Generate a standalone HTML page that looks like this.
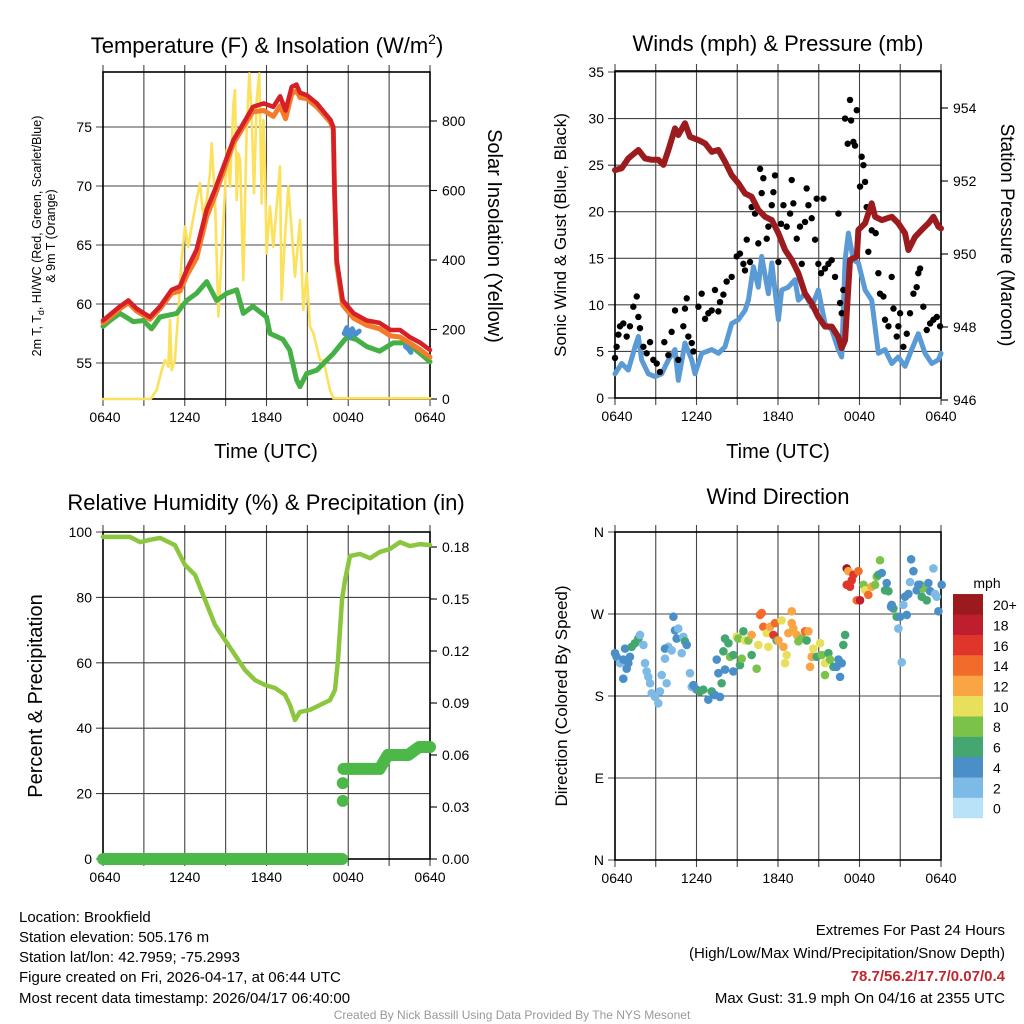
<!DOCTYPE html>
<html><head><meta charset="utf-8"><style>
html,body{margin:0;padding:0;background:#fff;}
svg{display:block;font-family:"Liberation Sans",Arial,sans-serif;}
</style></head><body>
<svg id="chart" width="1024" height="1024" viewBox="0 0 1024 1024">
<rect x="0" y="0" width="1024" height="1024" fill="#fff"/>
<text x="267" y="53" font-size="22" text-anchor="middle">Temperature (F) &amp; Insolation (W/m<tspan font-size="14" dy="-9">2</tspan><tspan dy="9">)</tspan></text>
<text x="778" y="51" font-size="22" text-anchor="middle">Winds (mph) &amp; Pressure (mb)</text>
<text x="266" y="510" font-size="22" text-anchor="middle">Relative Humidity (%) &amp; Precipitation (in)</text>
<text x="778" y="504" font-size="22" text-anchor="middle">Wind Direction</text>

<text transform="translate(41,236) rotate(-90)" font-size="12.5" text-anchor="middle">2m T, T<tspan font-size="9" dy="3">d</tspan><tspan dy="-3">, HI/WC (Red, Green, Scarlet/Blue)</tspan></text>
<text transform="translate(55,236) rotate(-90)" font-size="12.5" text-anchor="middle">&amp; 9m T (Orange)</text>
<text transform="translate(488,236) rotate(90)" font-size="20" text-anchor="middle">Solar Insolation (Yellow)</text>
<text x="266" y="458" font-size="20" text-anchor="middle">Time (UTC)</text>

<text transform="translate(566,235) rotate(-90)" font-size="17" text-anchor="middle">Sonic Wind &amp; Gust (Blue, Black)</text>
<text transform="translate(1001,235) rotate(90)" font-size="19" text-anchor="middle">Station Pressure (Maroon)</text>
<text x="778" y="458" font-size="20" text-anchor="middle">Time (UTC)</text>

<text transform="translate(42,696) rotate(-90)" font-size="20" text-anchor="middle">Percent &amp; Precipitation</text>
<text transform="translate(567,696) rotate(-90)" font-size="17" text-anchor="middle">Direction (Colored By Speed)</text>

<text x="987" y="588" font-size="14" text-anchor="middle">mph</text>

<g font-size="15">
<text x="19" y="922">Location: Brookfield</text>
<text x="19" y="942">Station elevation: 505.176 m</text>
<text x="19" y="962">Station lat/lon: 42.7959; -75.2993</text>
<text x="19" y="982">Figure created on Fri, 2026-04-17, at 06:44 UTC</text>
<text x="19" y="1003">Most recent data timestamp: 2026/04/17 06:40:00</text>
</g>
<g font-size="15" text-anchor="end">
<text x="1005" y="935">Extremes For Past 24 Hours</text>
<text x="1005" y="958">(High/Low/Max Wind/Precipitation/Snow Depth)</text>
<text x="1005" y="981" fill="#c1272d" font-weight="bold">78.7/56.2/17.7/0.07/0.4</text>
<text x="1005" y="1003">Max Gust: 31.9 mph On 04/16 at 2355 UTC</text>
</g>
<text x="512" y="1019" font-size="12" fill="#999" text-anchor="middle">Created By Nick Bassill Using Data Provided By The NYS Mesonet</text>
</svg>
<script>
// ---------- data (hours since 0640 UTC) ----------
const timeTicks = ["0640","1240","1840","0040","0640"];
const tempTicks = [55,60,65,70,75];
const solarTicks = [0,200,400,600,800];
const windTicks = [0,5,10,15,20,25,30,35];
const presTicks = [946,948,950,952,954];
const rhTicks = [0,20,40,60,80,100];
const precTicks = [0.00,0.03,0.06,0.09,0.12,0.15,0.18];
const dirTicks = ["N","E","S","W","N"];
const speedLabels = ["0","2","4","6","8","10","12","14","16","18","20+"];
const speedColors = ["#b9e2f8","#7ebae6","#4a8fc8","#45a770","#7bc24b","#e8e05a","#f9a543","#f26b2a","#e0352b","#be1e2d","#9b1a1e"];

const tempHours = [0,1.25,1.86,2.47,3.45,4.18,5.04,5.65,6.14,6.87,7.61,8.22,8.83,9.57,10.3,11.0,11.8,12.5,13.0,13.4,13.85,14.2,14.46,14.95,15.7,16.7,16.9,17.0,17.15,17.6,18.4,19.35,20.3,21.1,21.8,22.5,23.3,24];
const tempRed = [58.6,59.8,60.3,59.6,58.9,59.8,61.2,61.5,62.9,64.6,68.0,69.7,71.6,73.9,75.3,76.7,77.0,76.7,77.6,76.4,78.4,78.6,77.9,77.7,77.0,75.6,75.0,69.4,63.7,60.3,59.2,58.6,58.4,57.8,57.8,57.2,56.7,56.1];
const tempOrange = [58.4,59.6,60.1,59.4,58.7,59.6,60.9,61.1,62.4,63.9,67.4,69.2,71.2,73.6,75.0,76.3,76.4,75.9,76.8,75.7,77.8,78.1,77.5,77.4,76.7,75.4,74.8,69.2,63.4,59.9,58.8,58.2,57.9,57.3,57.2,56.7,56.1,55.5];
const dewHours = [0,0.52,1.25,2.23,2.96,3.57,4.18,5.41,6.14,6.87,7.61,8.34,9.08,9.81,10.3,11.0,12.0,12.26,13.2,13.7,14.2,14.46,14.95,15.7,16.9,17.9,18.6,19.35,20.3,21.3,22.3,23.3,24];
const dewPoint = [58.1,58.6,59.2,58.5,58.6,57.9,58.9,59.2,60.3,60.9,61.9,60.3,60.9,61.2,59.2,59.8,58.9,57.5,57.0,56.1,53.6,53.0,54.1,54.4,55.8,57.2,57.0,56.4,56.0,56.7,56.7,55.8,55.1];
const hiwcHours = [17.7,17.9,18.1,18.3,18.5,18.8];
const hiwcValues = [57.5,58.0,57.2,57.9,57.4,57.7];
const hiwcHours2 = [22.2,22.4,22.6];
const hiwcValues2 = [56.4,56.2,55.9];
const solarHours = [0,3.5,3.94,4.31,4.55,4.80,4.92,5.04,5.28,5.53,5.77,6.02,6.26,6.51,6.87,7.12,7.36,7.61,7.85,7.98,8.22,8.47,8.71,8.95,9.08,9.32,9.57,9.69,9.81,9.93,10.06,10.3,10.54,10.74,10.91,11.08,11.28,11.47,11.65,11.77,11.89,12.01,12.26,12.5,12.99,13.11,13.36,13.6,13.85,14.09,14.46,14.7,14.95,15.19,15.44,15.68,15.93,16.17,16.66,16.9,24];
const solarValues = [0,0,26,83,112,93,227,83,112,247,400,496,438,496,573,621,525,573,649,736,573,237,419,592,717,611,851,889,573,707,688,342,765,937,822,592,861,937,563,803,659,419,554,438,669,285,467,611,486,352,515,256,362,208,189,151,112,112,26,2,2];

const windHours = [0,0.49,0.98,1.47,1.72,1.96,2.45,2.94,3.44,3.93,4.42,4.66,5.15,5.65,5.89,6.38,7.12,7.61,8.10,8.59,9.08,9.57,9.82,10.19,10.55,10.8,11.29,11.54,12.03,12.27,12.76,13.25,13.5,13.99,14.48,14.97,15.46,15.96,16.44,16.69,16.94,17.18,17.55,17.92,18.41,18.9,19.39,19.88,20.38,20.86,21.35,21.84,22.33,22.82,23.32,23.81,24];
const windSpeed = [2.6,3.7,3.0,5.5,6.6,4.1,2.6,2.3,2.6,4.1,5.2,1.9,5.9,4.1,2.6,4.8,5.2,4.8,5.5,8.0,8.4,9.4,10.5,14.1,11.9,15.2,11.2,14.5,8.4,11.6,11.9,12.7,10.5,11.2,9.8,11.6,8.0,7.3,5.2,4.4,14.8,17.7,14.8,14.5,11.6,10.5,4.8,5.2,3.7,4.4,3.4,5.2,6.9,4.8,3.7,4.1,4.8];
const gustHours = [0,0.12,0.25,0.37,0.61,0.86,1.10,1.35,1.60,1.72,1.84,2.09,2.33,2.58,2.82,3.07,3.31,3.63,3.93,4.17,4.42,4.66,5.03,5.15,5.28,5.40,5.65,5.77,6.14,6.38,6.63,6.87,7.12,7.36,7.61,7.73,7.98,8.22,8.59,8.96,9.20,9.45,9.57,9.70,9.94,10.06,10.31,10.55,10.68,10.80,10.92,11.17,11.29,11.54,11.66,11.78,12.03,12.22,12.40,12.64,12.89,13.01,13.13,13.38,13.62,13.75,13.99,14.11,14.24,14.48,14.73,14.85,14.97,15.17,15.34,15.46,15.71,15.95,16.20,16.45,16.57,16.69,16.81,16.94,17.13,17.30,17.38,17.55,17.67,17.80,18.04,18.16,18.29,18.41,18.53,18.65,18.90,19.19,19.39,19.51,19.76,19.88,20.13,20.37,20.50,20.74,20.86,20.99,21.23,21.48,21.72,21.97,22.21,22.33,22.46,22.70,22.95,23.20,23.44,23.69,23.93];
const gustSpeed = [4.3,5.5,6.8,7.7,8.0,6.6,7.7,9.8,10.9,8.7,7.5,5.5,4.8,6.0,4.1,3.7,2.8,6.0,4.6,7.1,9.4,4.1,7.7,9.6,10.7,6.6,5.9,5.0,9.8,11.2,8.5,9.1,9.4,11.6,9.3,10.3,11.1,12.5,13.0,15.2,15.5,14.4,13.7,17.0,14.6,20.5,19.8,16.6,24.6,22.0,23.6,17.1,18.4,20.7,22.1,23.9,14.6,18.7,20.7,18.4,19.8,23.4,20.9,17.1,18.4,14.4,18.9,22.5,20.7,19.3,17.0,21.4,14.4,13.4,21.4,13.9,14.4,14.8,13.0,19.8,10.2,9.1,11.6,30.0,27.3,32.0,29.8,27.5,27.1,30.9,22.7,25.9,25.0,23.2,20.5,15.7,18.0,17.7,13.4,11.2,10.9,8.4,7.7,13.0,9.6,6.6,7.7,9.1,5.5,6.9,9.1,11.2,11.9,13.4,13.9,9.8,7.3,8.0,8.4,8.7,7.7];
const presHours = [0,0.49,0.98,1.72,2.21,2.70,3.19,3.56,3.93,4.42,4.66,5.15,5.52,6.14,6.63,7.12,7.61,8.10,8.59,9.08,9.57,10.06,10.55,11.05,11.54,12.03,12.52,13.01,13.5,13.99,14.48,14.97,15.46,15.96,16.44,16.69,16.94,17.3,17.8,17.92,18.41,18.9,19.15,19.64,20.38,20.86,21.35,21.6,22.09,22.58,23.07,23.44,23.81,24];
const pressure = [952.30,952.35,952.62,952.85,952.62,952.58,952.58,952.44,952.85,953.44,953.26,953.58,953.21,953.12,953.03,952.80,952.85,952.53,952.16,951.94,951.66,951.57,951.21,951.02,950.93,950.57,950.11,949.84,949.47,948.92,948.65,948.28,948.01,948.01,947.73,947.42,947.64,949.84,949.93,950.66,950.84,951.39,951.02,950.93,951.02,950.84,950.57,950.11,950.47,950.66,950.84,951.02,950.75,950.70];

const rhHours = [0,1.98,2.72,3.45,4.18,5.28,6.02,6.75,7.49,8.22,8.95,9.69,10.42,11.16,11.89,12.62,13.36,13.73,14.09,14.46,15.19,15.93,16.66,17.03,17.25,17.54,17.76,18.13,18.86,19.6,20.33,21.06,21.8,22.53,23.27,24];
const rhValues = [98.5,98.5,96.9,97.6,98.2,96.0,89.9,86.9,79.2,71.6,67.0,62.4,57.8,54.7,53.2,52.3,50.2,47.0,42.5,45.0,45.6,47.1,48.6,51.7,60.9,79.2,85.3,92.7,93.3,92.0,93.9,94.8,96.9,95.7,96.3,96.0];
const precHours = [0,17.55];
const precValues = [0,0];
const precDotHours = [17.6,17.6];
const precDotValues = [0.0335,0.0438];
const precHours2 = [17.65,20.3,20.9,22.4,23.2,24];
const precValues2 = [0.052,0.052,0.060,0.060,0.0646,0.0646];

const dirHours = [0,0.12,0.37,0.61,0.74,0.86,0.98,1.10,0.61,1.23,1.47,1.72,1.84,2.09,2.21,2.33,2.45,2.58,2.70,2.95,3.19,3.31,3.44,3.80,3.68,3.93,3.68,4.17,4.30,4.42,4.54,4.66,4.91,5.03,5.15,5.28,5.52,5.65,5.77,6.01,6.26,6.50,6.87,7.12,7.36,7.73,7.85,7.61,8.10,8.71,7.49,7.98,8.10,8.35,8.47,8.71,8.96,9.20,9.33,9.08,9.45,9.57,9.82,10.06,10.06,10.43,10.55,10.68,10.80,10.92,11.17,11.29,11.41,11.66,11.78,11.90,12.03,12.27,12.40,12.64,12.52,12.76,13.01,13.01,13.13,13.38,13.50,13.75,13.99,14.11,14.24,14.48,14.36,14.60,14.85,15.10,15.22,15.46,15.46,15.71,15.83,16.08,16.32,16.45,16.69,16.57,16.81,16.94,17.06,17.18,17.43,17.55,17.30,17.06,17.80,17.92,18.04,18.29,18.41,18.65,18.90,19.15,19.27,19.39,19.51,19.64,19.88,20.00,20.13,20.37,20.50,20.32,20.74,20.86,20.99,21.11,21.23,21.35,21.48,21.60,21.72,21.80,21.97,22.21,22.46,22.58,22.70,22.95,23.07,23.20,23.44,23.56,23.69,23.81,24.05,22.33];
const dirValues = [227,223,216,220,232,210,216,223,199,234,238,243,247,236,216,207,201,194,183,179,172,185,203,194,221,234,232,230,267,252,243,254,227,245,240,236,205,190,192,187,185,187,176,185,181,179,194,205,209,207,220,229,243,238,223,225,245,214,221,243,251,241,241,247,225,210,236,269,271,256,249,234,256,247,260,241,241,263,234,225,216,249,273,260,254,247,240,243,251,241,251,223,212,232,223,238,225,216,203,227,220,212,212,220,216,201,236,247,320,317,307,313,300,302,285,317,285,302,296,291,300,302,311,313,329,315,296,304,295,280,276,278,267,254,267,217,280,289,269,292,305,330,317,296,302,289,298,285,304,295,320,292,289,273,302,302,278];
const dirSpeed = [4,4,2,4,4,4,4,4,4,6,6,6,2,2,2,2,2,2,2,2,2,2,2,2,2,2,4,2,4,4,4,2,2,2,6,4,2,2,4,4,6,6,4,6,4,4,6,4,4,4,4,6,6,6,8,6,10,6,8,8,6,10,8,12,6,8,10,14,14,14,10,10,12,16,14,6,12,10,12,10,10,12,12,12,12,12,8,8,14,6,12,12,12,10,6,10,8,10,8,6,8,6,4,4,4,4,6,6,20,12,16,16,16,16,14,14,18,8,10,14,12,8,8,6,8,4,6,4,6,4,6,4,6,2,4,2,2,4,4,4,2,4,4,4,6,6,8,6,4,4,2,2,2,4,4,4,6];

// ---------- helpers ----------
const NS = 'http://www.w3.org/2000/svg';
const svg = document.getElementById('chart');
function mk(tag, attrs, parent) {
  const e = document.createElementNS(NS, tag);
  for (const k in attrs) e.setAttribute(k, attrs[k]);
  (parent || svg).appendChild(e);
  return e;
}
function lin(d0, d1, p0, p1) { return v => p0 + (v - d0) * (p1 - p0) / (d1 - d0); }

function panel(name, L, R, T, B, xs, hTicksY) {
  const g = mk('g', {});
  
  
  for (let h = 0; h <= 24; h += 3) {
    const x = xs(h);
    const gl = mk('line', {x1: x, x2: x, y1: T - 7, y2: B + 7, stroke: '#444', 'stroke-width': 1.1}, g);
    
    
  }
  hTicksY.forEach(y => {
    const gl = mk('line', {x1: L - 7, x2: R, y1: y, y2: y, stroke: '#444', 'stroke-width': 1.1}, g);
    
    
  });
  const fr = mk('rect', {x: L, y: T, width: R - L, height: B - T, fill: 'none', stroke: '#000', 'stroke-width': 1.6}, g);
  
  
  timeTicks.forEach((t, i) => {
    const tx = mk('text', {x: xs(i * 6) + (i === 0 ? 2 : 0), y: B + 23, 'font-size': 14, 'text-anchor': 'middle'}, svg);
    tx.textContent = t;
    
    
  });
  return g;
}
function rightTicks(name, R, ys, labels, g) {
  ys.forEach((y, i) => {
    const tk = mk('line', {x1: R, x2: R + 7, y1: y, y2: y, stroke: '#000', 'stroke-width': 1.1}, g);
    
    
    const tx = mk('text', {x: R + 12, y: y + 5, 'font-size': 14}, svg);
    tx.textContent = labels[i];
    
    
  });
}
function leftLabels(name, L, ys, labels) {
  ys.forEach((y, i) => {
    const tx = mk('text', {x: L - 11, y: y + 5, 'font-size': 14, 'text-anchor': 'end'}, svg);
    tx.textContent = labels[i];
    
    
  });
}
function series(name, hs, vs, xs, ys, color, width) {
  const pts = hs.map((h, i) => xs(h).toFixed(1) + ',' + ys(vs[i]).toFixed(1)).join(' ');
  const pl = mk('polyline', {points: pts, fill: 'none', stroke: color, 'stroke-width': width, 'stroke-linejoin': 'round', 'stroke-linecap': 'round'});
  
  
  return pl;
}

// ---------- Panel 1: temperature & insolation ----------
const x1 = lin(0, 24, 103, 430);
const yT = lin(55, 75, 363, 127);
const yS = lin(0, 800, 399, 121);
const g1 = panel('temperature', 103, 430, 72, 399, x1, tempTicks.map(yT));
leftLabels('temperature', 103, tempTicks.map(yT), tempTicks.map(String));
rightTicks('solar', 430, solarTicks.map(yS), solarTicks.map(String), g1);
series('solar-insolation-line', solarHours, solarValues, x1, yS, '#fbe15c', 2.6);
series('dewpoint-line', dewHours, dewPoint, x1, yT, '#45b045', 5);
series('hi-wc-line', hiwcHours, hiwcValues, x1, yT, '#4a90d0', 5);
series('hi-wc-line-2', hiwcHours2, hiwcValues2, x1, yT, '#4a90d0', 5);
series('temp-9m-line', tempHours, tempOrange, x1, yT, '#f47b2a', 5);
series('temp-2m-line', tempHours, tempRed, x1, yT, '#d62027', 4.5);

// ---------- Panel 2: winds & pressure ----------
const x2 = lin(0, 24, 615, 941);
const yW = lin(0, 35, 398, 72);
const yP = lin(946, 954, 400, 108);
const g2 = panel('winds', 615, 941, 71, 398, x2, windTicks.map(yW));
leftLabels('winds', 615, windTicks.map(yW), windTicks.map(String));
rightTicks('pressure', 941, presTicks.map(yP), presTicks.map(String), g2);
series('sonic-wind-line', windHours, windSpeed, x2, yW, '#5b9bd5', 5);
gustHours.forEach((h, i) => {
  const c = mk('circle', {cx: x2(h), cy: yW(gustSpeed[i]), r: 3.2, fill: '#000'});
  
  
});
series('pressure-line', presHours, pressure, x2, yP, '#9b1b1e', 6);

// ---------- Panel 3: RH & precip ----------
const yRH = lin(0, 100, 859, 532);
const yPr = lin(0, 0.18, 859, 547);
const g3 = panel('humidity', 103, 430, 532, 859, x1, rhTicks.map(yRH));
leftLabels('humidity', 103, rhTicks.map(yRH), rhTicks.map(String));
rightTicks('precip', 430, precTicks.map(yPr), precTicks.map(v => v.toFixed(2)), g3);
series('relative-humidity-line', rhHours, rhValues, x1, yRH, '#8cc63f', 4.5);
series('precipitation-line', precHours, precValues, x1, yPr, '#4cb848', 12);
series('precipitation-line-2', precHours2, precValues2, x1, yPr, '#4cb848', 12);
precDotHours.forEach((h, i) => {
  const c = mk('circle', {cx: x1(h), cy: yPr(precDotValues[i]), r: 6, fill: '#4cb848'});
  
  
});

// ---------- Panel 4: wind direction ----------
const yD = lin(0, 360, 860, 532);
panel('direction', 615, 941, 532, 860, x2, [0, 90, 180, 270, 360].map(yD));
leftLabels('direction', 615, [0, 90, 180, 270, 360].map(yD), dirTicks);
dirHours.forEach((h, i) => {
  const idx = Math.min(10, Math.floor(dirSpeed[i] / 2));
  const c = mk('circle', {cx: x2(h), cy: yD(dirValues[i]), r: 4.3, fill: speedColors[idx]});
  
  
});

// colorbar
const cb = mk('g', {});


speedColors.forEach((col, i) => {
  const y = 818 - (i + 1) * 20.36;
  const r = mk('rect', {x: 953, y: y, width: 30, height: 20.6, fill: col}, cb);
  
  
  const t = mk('text', {x: 993, y: y + 16, 'font-size': 14}, cb);
  t.textContent = speedLabels[i];
  
  
});
</script>
</body></html>
